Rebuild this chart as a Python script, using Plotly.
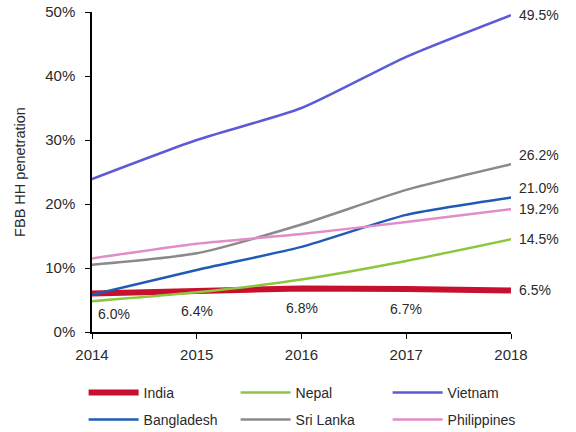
import plotly.graph_objects as go

years = [2014, 2015, 2016, 2017, 2018]
india = [6.0, 6.4, 6.8, 6.7, 6.5]
nepal = [4.8, 6.2, 8.2, 11.1, 14.5]
vietnam = [23.9, 30.0, 35.0, 43.0, 49.5]
bangladesh = [5.8, 9.7, 13.3, 18.3, 21.0]
sri_lanka = [10.5, 12.3, 16.8, 22.2, 26.2]
philippines = [11.5, 13.8, 15.3, 17.2, 19.2]

series = [
    ("India", india, "#C8102E", 6, "legend"),
    ("Nepal", nepal, "#8DC63F", 2.5, "legend"),
    ("Vietnam", vietnam, "#5B5BD6", 2.5, "legend"),
    ("Bangladesh", bangladesh, "#1F5BB5", 2.5, "legend2"),
    ("Sri Lanka", sri_lanka, "#8A8A8A", 2.5, "legend2"),
    ("Philippines", philippines, "#E08DC8", 2.5, "legend2"),
]

fig = go.Figure()
for name, vals, color, w, lg in series:
    fig.add_trace(go.Scatter(x=years, y=vals, name=name, mode="lines", legend=lg,
                             line=dict(color=color, width=w, shape="spline", smoothing=0.6)))

font_color = "#2a2a2a"
end_shift = {"Sri Lanka": 9, "Bangladesh": 10}
for name, vals, color, w, lg in series:
    fig.add_annotation(x=years[-1], y=vals[-1], text=f"{vals[-1]:.1f}%", showarrow=False,
                       xanchor="left", xshift=6, yshift=end_shift.get(name, 0),
                       font=dict(size=14, color=font_color))
for i, yr in enumerate(years[:-1]):
    fig.add_annotation(x=yr, y=india[i], text=f"{india[i]:.1f}%", showarrow=False,
                       xanchor="center" if i else "left", xshift=0 if i else 4, yshift=-20,
                       font=dict(size=14, color=font_color))

leg_common = dict(orientation="h", xanchor="left", yanchor="middle",
                  entrywidth=87, entrywidthmode="pixels", itemwidth=50,
                  font=dict(size=14, color=font_color), bgcolor="rgba(0,0,0,0)")

fig.update_layout(
    width=576, height=432,
    margin=dict(l=92, r=65, t=12, b=100, autoexpand=False),
    plot_bgcolor="white", paper_bgcolor="white",
    font=dict(family="Liberation Sans, Arial, sans-serif", size=14, color=font_color),
    showlegend=True,
    legend=dict(x=-0.02, y=-0.19, **leg_common),
    legend2=dict(x=-0.02, y=-0.275, **leg_common),
    xaxis=dict(range=[2014, 2018], tickvals=years, ticktext=[str(y) for y in years],
               showline=True, linecolor="black", linewidth=1.5, ticks="outside",
               tickcolor="black", ticklen=5, showgrid=False, zeroline=False,
               ticklabelstandoff=3, ticklabeloverflow="allow",
               tickfont=dict(size=15, color=font_color)),
    yaxis=dict(range=[0, 50], tickvals=[0, 10, 20, 30, 40, 50],
               ticktext=["0%", "10%", "20%", "30%", "40%", "50%"],
               showline=True, linecolor="black", linewidth=1.5, ticks="outside",
               tickcolor="black", ticklen=5, showgrid=False, zeroline=False,
               ticklabelstandoff=7, ticklabeloverflow="allow",
               title=dict(text="FBB HH penetration", font=dict(size=14.5, color=font_color), standoff=16),
               tickfont=dict(size=15, color=font_color)),
)

fig.write_html("out.html", config={"displayModeBar": False},
               post_script="document.body.style.margin='0';")
